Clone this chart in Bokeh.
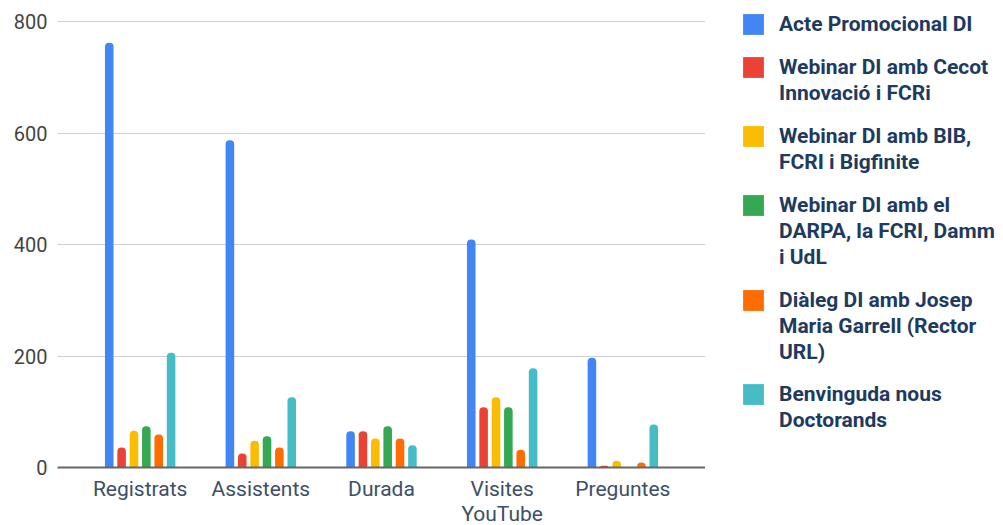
from bokeh.plotting import figure
from bokeh.layouts import row
from bokeh.models import (ColumnDataSource, FactorRange, Range1d, FixedTicker, Legend,
                          LegendItem, CategoricalAxis, CustomJSTickFormatter)
from bokeh.transform import dodge
from bokeh.embed import file_html
from bokeh.resources import INLINE

categories = ["Registrats", "Assistents", "Durada", "Visites YouTube", "Preguntes"]
acte_promocional = [762, 587, 65, 409, 197]
webinar_cecot = [36, 25, 65, 108, 3]
webinar_bib = [66, 48, 52, 126, 12]
webinar_darpa = [74, 56, 74, 108, 0]
dialeg_garrell = [59, 36, 52, 32, 9]
benvinguda = [206, 126, 40, 178, 77]
y_ticks = [0, 200, 400, 600, 800]

legend_lines = [
    ["Acte Promocional DI"],
    ["Webinar DI amb Cecot", "Innovació i FCRi"],
    ["Webinar DI amb BIB,", "FCRI i Bigfinite"],
    ["Webinar DI amb el", "DARPA, la FCRI, Damm", "i UdL"],
    ["Diàleg DI amb Josep", "Maria Garrell (Rector", "URL)"],
    ["Benvinguda nous", "Doctorands"],
]
series_values = [acte_promocional, webinar_cecot, webinar_bib, webinar_darpa,
                 dialeg_garrell, benvinguda]
colors = ["#4285F4", "#EA4335", "#FBBC04", "#34A853", "#FF6D01", "#46BDC6"]
keys = ["s0", "s1", "s2", "s3", "s4", "s5"]

data = {"cat": categories}
for k, v in zip(keys, series_values):
    data[k] = v
source = ColumnDataSource(data)

FONT = "Roboto"
FIG_H = 525
FRAME_LEFT, FRAME_W = 57, 648
FRAME_TOP = 2            # frame starts above the 800 grid line (which sits at y=21)
GRID_TOP = 21
BOTTOM = 58              # space for the category labels (axis line at y=467)
FRAME_H = FIG_H - FRAME_TOP - BOTTOM
Y_MAX = 800 * FRAME_H / (FRAME_H - (GRID_TOP - FRAME_TOP))
LEG_W = 1003 - FRAME_LEFT - FRAME_W

# ---------------- main chart ----------------
p = figure(
    x_range=FactorRange(*categories, range_padding=0.185, range_padding_units="absolute"),
    y_range=Range1d(0, Y_MAX),
    frame_width=FRAME_W, frame_height=FRAME_H,
    min_border_left=FRAME_LEFT, min_border_top=FRAME_TOP,
    min_border_bottom=BOTTOM, min_border_right=0,
    output_backend="svg", toolbar_location=None,
)
p.outline_line_color = None
p.background_fill_color = "white"
p.border_fill_color = "white"

step = 0.1025
offsets = [(-2.5 + i) * step for i in range(6)]
for k, off, col in zip(keys, offsets, colors):
    p.vbar(x=dodge("cat", off, range=p.x_range), top=k, width=0.071, source=source,
           fill_color=col, line_color=None, border_radius=(4, 4, 0, 0))

p.yaxis.ticker = FixedTicker(ticks=y_ticks)
p.yaxis.axis_line_color = None
p.yaxis.major_tick_line_color = None
p.yaxis.minor_tick_line_color = None
p.yaxis.major_tick_out = 0
p.yaxis.major_label_standoff = 10
p.yaxis.major_label_text_font = FONT
p.yaxis.major_label_text_font_size = "20px"
p.yaxis.major_label_text_color = "#444444"

xa = p.xaxis[0]
xa.axis_line_color = "#666666"
xa.axis_line_width = 2
xa.major_tick_line_color = None
xa.minor_tick_line_color = None
xa.major_tick_out = 0
xa.major_label_standoff = 9
xa.major_label_text_font = FONT
xa.major_label_text_font_size = "21px"
xa.major_label_text_color = "#3d4f66"
xa.formatter = CustomJSTickFormatter(
    code='return tick == "Visites YouTube" ? "Visites" : tick;')

# second line of the wrapped category label
x2 = CategoricalAxis(axis_line_color=None, major_tick_line_color=None,
                     minor_tick_line_color=None, major_tick_out=0, major_tick_in=0,
                     major_label_standoff=-2,
                     major_label_text_font=FONT, major_label_text_font_size="21px",
                     major_label_text_color="#3d4f66",
                     formatter=CustomJSTickFormatter(
                         code='return tick == "Visites YouTube" ? "YouTube" : "";'))
p.add_layout(x2, "below")

p.xgrid.grid_line_color = None
p.ygrid.grid_line_color = "#d0d0d0"
p.ygrid.grid_line_width = 1
p.ygrid.ticker = FixedTicker(ticks=y_ticks)

# ---------------- legend panel ----------------
lf = figure(width=LEG_W, height=FIG_H, x_range=FactorRange(*categories),
            y_range=Range1d(-2, -1), x_axis_type=None, y_axis_type=None,
            min_border_top=FRAME_TOP, min_border_bottom=BOTTOM,
            min_border_left=0, min_border_right=0,
            output_backend="svg", toolbar_location=None)
lf.outline_line_color = None
lf.xgrid.grid_line_color = None
lf.ygrid.grid_line_color = None
lf.background_fill_color = "white"
lf.border_fill_color = "white"

swatches = []
ghosts = []
for k, off, col in zip(keys, offsets, colors):
    # zero-width copies of the series: only their legend swatches are drawn
    swatches.append(lf.vbar(x=dodge("cat", off, range=lf.x_range), top=k, width=0,
                            source=source, fill_color=col, line_color=None))
    ghosts.append(lf.vbar(x=dodge("cat", off, range=lf.x_range), top=k, width=0,
                          source=source, fill_alpha=0, line_alpha=0))

LINE_H = 26
entry_tops = [14, 57, 126, 195, 290, 384]
legend_x = 35
frame_bottom = FIG_H - BOTTOM
for lines, r, g, top in zip(legend_lines, swatches, ghosts, entry_tops):
    its = [LegendItem(label=lines[0], renderers=[r])]
    its += [LegendItem(label=t, renderers=[g]) for t in lines[1:]]
    h = LINE_H * len(lines)
    leg = Legend(items=its, location=(legend_x, frame_bottom - top - h),
                 margin=0, padding=0, spacing=0,
                 glyph_width=26, glyph_height=26, label_standoff=13, label_height=LINE_H,
                 label_text_font=FONT, label_text_font_size="21px",
                 label_text_font_style="bold", label_text_color="#1e3a5f",
                 border_line_color=None, background_fill_alpha=0)
    lf.add_layout(leg)

layout = row(p, lf, spacing=0)
open("out.html", "w").write(file_html(layout, INLINE))
